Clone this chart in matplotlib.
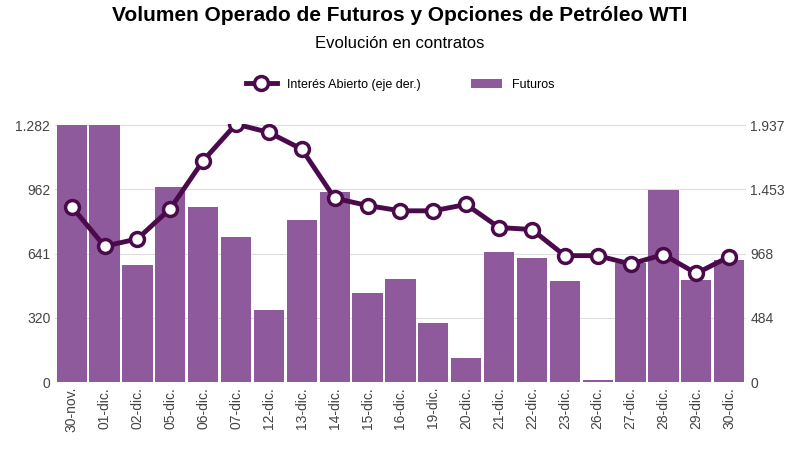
import numpy as np
import matplotlib.pyplot as plt

fechas = ["30-nov.", "01-dic.", "02-dic.", "05-dic.", "06-dic.", "07-dic.", "12-dic.",
          "13-dic.", "14-dic.", "15-dic.", "16-dic.", "19-dic.", "20-dic.", "21-dic.",
          "22-dic.", "23-dic.", "26-dic.", "27-dic.", "28-dic.", "29-dic.", "30-dic."]
futuros = [1282, 1285, 583, 974, 875, 724, 359, 807, 948, 443, 516, 297, 120, 651,
           620, 505, 10, 594, 958, 510, 609]
interes = [1323, 1024, 1079, 1307, 1669, 1945, 1882, 1756, 1386, 1331, 1291, 1291,
           1339, 1165, 1150, 953, 953, 890, 961, 819, 945]
ticks_izq = [0, 320, 641, 962, 1282]
ticks_der = [0, 484, 968, 1453, 1937]

plt.rcParams['font.family'] = ['Liberation Sans', 'DejaVu Sans']
fig = plt.figure(figsize=(8, 4.57), dpi=100)
ax = fig.add_axes([0.069, 0.164, 0.863, 0.565])
x = np.arange(len(fechas))
bars = ax.bar(x, futuros, width=0.92, color="#8f5a9c", label="Futuros", zorder=2)
ax.set_xlim(-0.5, len(fechas) - 0.5)
ax.set_ylim(0, 1282 * 1.005)
ax.set_yticks(ticks_izq)
ax.set_yticklabels([f"{t:,}".replace(",", ".") for t in ticks_izq])
ax.set_xticks(x)
ax.set_xticklabels(fechas, rotation=90)
ax.grid(axis="y", color="#dddddd", zorder=0)
for s in ax.spines.values():
    s.set_visible(False)
ax.tick_params(length=0, labelsize=10, colors="#444444")

ax2 = ax.twinx()
ax2.set_ylim(0, 1937 * 1.005)
ax2.set_yticks(ticks_der)
ax2.set_yticklabels([f"{t:,}".replace(",", ".") for t in ticks_der])
line, = ax2.plot(x, interes, color="#4b0a4b", lw=3.5, marker="o", ms=10,
                 mfc="white", mec="#4b0a4b", mew=2.5, label="Interés Abierto (eje der.)", zorder=3)
for s in ax2.spines.values():
    s.set_visible(False)
ax2.tick_params(length=0, labelsize=10, colors="#444444")

fig.text(0.5, 0.955, "Volumen Operado de Futuros y Opciones de Petróleo WTI",
         ha="center", fontsize=15, fontweight="bold")
fig.text(0.5, 0.895, "Evolución en contratos", ha="center", fontsize=12)
fig.legend([line, bars], ["Interés Abierto (eje der.)", "Futuros"], loc="center",
           bbox_to_anchor=(0.5, 0.815), ncol=2, frameon=False, fontsize=9,
           columnspacing=4, handlelength=2.5)
fig.savefig("out.png")
